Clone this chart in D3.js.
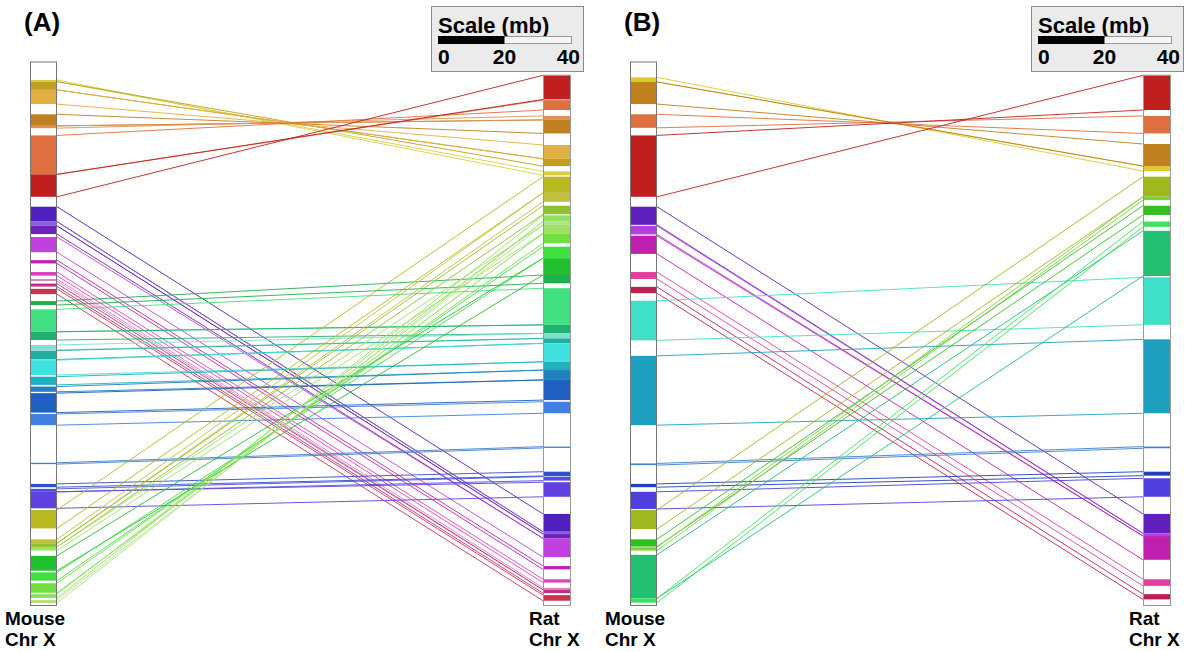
<!DOCTYPE html>
<html><head><meta charset="utf-8">
<script src="https://cdn.jsdelivr.net/npm/d3@7"></script>
<style>
body{margin:0;background:#fff}
text{font-family:"Liberation Sans",Arial,Helvetica,sans-serif;font-weight:bold;fill:#000}
</style>
</head><body>
<svg id="c" width="1200" height="652"></svg>
<script>
// ---------- data ----------
const panelLabels = ["(A)", "(B)"];
const mouseLabel = ["Mouse", "Chr X"];
const ratLabel = ["Rat", "Chr X"];
const mouseLength = 165;   // mb
const ratLength = 161;     // mb
const scaleTitle = "Scale (mb)";
const scaleTicks = [0, 20, 40];

const palette = {
  paleyellow:"#d8d040", oliveyellow:"#c0a020", gold:"#e0b040", ochre:"#c0801e",
  lightorange:"#e09050", orange:"#e07040", red:"#c01f1f", yellowB:"#dccb2c",
  purpleA:"#5020c0", lightviolet:"#9060d0", violetA:"#7020c0", magviolet:"#c040e0",
  magentaA:"#c020b0", pinkA:"#e040c0", lightpink:"#e080c0", pinkred:"#c03080",
  redpink:"#d03050", purpleB:"#6020c0", violetB:"#b040e0", magentaB:"#c020b0",
  pinkB:"#e040a0", crimson:"#c02050",
  greenA:"#20b050", tealgreen:"#40e080", darkteal:"#20b070", paleteal:"#80e0d0",
  teal2:"#20b0a0", turqA:"#40e0e0", teal3:"#20b0c0", teal4:"#2080c0",
  blueA:"#2060c0", lightblue:"#4080e0", blueline:"#4080d0", blueA2:"#3050d0",
  bluevioletA:"#5050e0", purpleblue:"#6040e0", turqB:"#40e0c8", tealblue:"#20a0c0",
  darkblue:"#2040c0", blueviolet:"#5040e0",
  olive:"#b8b820", lightolive:"#c0c040", olivegreenA:"#90c030", palegreen:"#a0e060",
  greenA2:"#20c030", bright:"#40e040", lightgreenA:"#70e040", stripe1:"#90e060",
  stripe2:"#b0e080", olivegreen:"#a0b820", green:"#30c020", lightgreen:"#80d040",
  greenteal:"#20c070", lightgreen2:"#40e060"
};

// synteny blocks: [mouseStart, mouseEnd, ratStart, ratEnd, colour]  (mb)
const blocksA = [
  [5.6, 6.1, 30.5, 29.3, "paleyellow"],
  [6.1, 8.6, 27.7, 25.5, "oliveyellow"],
  [8.6, 12.9, 25.5, 21.3, "gold"],
  [16.0, 19.5, 17.8, 13.7, "ochre"],
  [19.5, 20.2, 13.7, 12.5, "lightorange"],
  [22.4, 34.2, 10.7, 7.7, "orange"],
  [34.2, 41.0, 7.5, 0.2, "red"],
  [44.0, 48.5, 133.1, 138.5, "purpleA"],
  [48.5, 49.8, 138.5, 139.2, "lightviolet"],
  [49.8, 52.3, 139.2, 140.5, "violetA"],
  [53.2, 57.8, 140.5, 146.2, "magviolet"],
  [60.2, 61.2, 148.9, 149.9, "magentaA"],
  [63.8, 64.9, 152.9, 153.9, "pinkA"],
  [65.9, 66.5, 155.5, 156.1, "lightpink"],
  [67.3, 68.2, 156.1, 157.1, "pinkred"],
  [68.9, 70.5, 157.7, 159.4, "redpink"],
  [72.6, 73.8, 60.7, 63.2, "greenA"],
  [75.1, 81.9, 64.7, 75.8, "tealgreen"],
  [81.9, 84.4, 75.8, 78.4, "darkteal"],
  [85.9, 87.4, 78.4, 79.9, "paleteal"],
  [87.6, 90.3, 79.9, 81.4, "teal2"],
  [90.5, 95.0, 81.4, 87.0, "turqA"],
  [95.5, 98.0, 87.0, 89.5, "teal3"],
  [98.5, 100.1, 89.5, 92.5, "teal4"],
  [100.5, 106.4, 92.5, 98.6, "blueA"],
  [106.8, 110.2, 99.1, 102.6, "lightblue"],
  [121.6, 122.0, 112.7, 113.1, "blueline"],
  [128.0, 129.0, 120.3, 121.6, "blueA2"],
  [129.5, 130.4, 121.8, 123.0, "bluevioletA"],
  [130.4, 135.4, 123.5, 127.9, "purpleblue"],
  [135.9, 141.5, 30.9, 35.8, "olive"],
  [144.8, 146.0, 35.8, 38.5, "lightolive"],
  [146.0, 147.1, 39.7, 42.3, "olivegreenA"],
  [147.1, 148.2, 45.5, 48.1, "palegreen"],
  [149.8, 154.3, 55.6, 60.7, "greenA2"],
  [154.8, 157.3, 55.6, 52.1, "bright"],
  [158.1, 161.0, 51.1, 48.1, "lightgreenA"],
  [161.4, 162.6, 44.5, 42.6, "stripe1"],
  [163.2, 164.1, 45.5, 44.5, "stripe2"]
];

const blocksB = [
  [4.8, 6.2, 29.2, 27.7, "yellowB"],
  [6.2, 12.9, 27.7, 21.0, "ochre"],
  [16.0, 20.1, 17.8, 12.5, "orange"],
  [22.4, 41.0, 10.7, 0.2, "red"],
  [44.0, 49.5, 133.1, 139.0, "purpleB"],
  [49.8, 52.4, 139.0, 139.8, "violetB"],
  [52.8, 58.3, 139.8, 147.0, "magentaB"],
  [63.8, 65.9, 152.9, 154.9, "pinkB"],
  [68.3, 70.2, 157.4, 159.0, "crimson"],
  [72.5, 84.5, 61.4, 75.8, "turqB"],
  [89.2, 110.2, 80.2, 102.6, "tealblue"],
  [121.8, 122.3, 112.7, 113.2, "blueline"],
  [128.0, 129.0, 120.3, 121.5, "darkblue"],
  [130.4, 135.6, 122.3, 127.9, "blueviolet"],
  [135.9, 141.7, 30.9, 37.0, "olivegreen"],
  [144.8, 147.0, 39.7, 42.5, "green"],
  [147.2, 148.2, 37.0, 38.0, "lightgreen"],
  [149.5, 162.7, 47.3, 61.0, "greenteal"],
  [162.7, 164.0, 44.5, 46.1, "lightgreen2"]
];

// ---------- drawing ----------
const svg = d3.select("#c");
const panelOffsets = [0, 600];
const layout = {mouseX:30, mouseW:27, ratX:543, ratW:28, bottom:606, pxPerMb:3.3};

function drawPanel(blocks, ox, label) {
  const g = svg.append("g").attr("transform", `translate(${ox},0)`);
  const L = layout;
  const yM = d3.scaleLinear().domain([0, mouseLength])
    .range([L.bottom - mouseLength * L.pxPerMb, L.bottom]);
  const yR = d3.scaleLinear().domain([0, ratLength])
    .range([L.bottom - ratLength * L.pxPerMb, L.bottom]);

  // connecting lines
  const lines = [];
  blocks.forEach(b => {
    lines.push({m:b[0], r:b[2], c:palette[b[4]]});
    lines.push({m:b[1], r:b[3], c:palette[b[4]]});
  });
  g.append("g").selectAll("line").data(lines).join("line")
    .attr("x1", L.mouseX + L.mouseW).attr("x2", L.ratX)
    .attr("y1", d => yM(d.m)).attr("y2", d => yR(d.r))
    .attr("stroke", d => d.c).attr("stroke-width", 1).attr("stroke-opacity", 0.9);

  // chromosome backgrounds
  g.append("rect").attr("x", L.mouseX).attr("y", yM(0)).attr("width", L.mouseW)
    .attr("height", yM(mouseLength) - yM(0)).attr("fill", "#fff");
  g.append("rect").attr("x", L.ratX).attr("y", yR(0)).attr("width", L.ratW)
    .attr("height", yR(ratLength) - yR(0)).attr("fill", "#fff");

  // blocks
  g.append("g").selectAll("rect").data(blocks).join("rect")
    .attr("x", L.mouseX).attr("width", L.mouseW)
    .attr("y", d => yM(Math.min(d[0], d[1])))
    .attr("height", d => Math.max(0.8, Math.abs(yM(d[1]) - yM(d[0]))))
    .attr("fill", d => palette[d[4]]);
  g.append("g").selectAll("rect").data(blocks).join("rect")
    .attr("x", L.ratX).attr("width", L.ratW)
    .attr("y", d => yR(Math.min(d[2], d[3])))
    .attr("height", d => Math.max(0.8, Math.abs(yR(d[3]) - yR(d[2]))))
    .attr("fill", d => palette[d[4]]);

  // outlines
  g.append("rect").attr("x", L.mouseX + 0.5).attr("y", yM(0) + 0.5).attr("width", L.mouseW - 1)
    .attr("height", yM(mouseLength) - yM(0) - 1).attr("fill", "none")
    .attr("stroke", "#777").attr("stroke-width", 1);
  g.append("rect").attr("x", L.ratX + 0.5).attr("y", yR(0) + 0.5).attr("width", L.ratW - 1)
    .attr("height", yR(ratLength) - yR(0) - 1).attr("fill", "none")
    .attr("stroke", "#999").attr("stroke-width", 1);

  // labels
  g.append("text").attr("x", 24).attr("y", 31).attr("font-size", 26).text(label);
  mouseLabel.forEach((t, i) => g.append("text").attr("font-size", 19)
    .attr("x", 5).attr("y", 625 + i * 21).text(t));
  ratLabel.forEach((t, i) => g.append("text").attr("font-size", 19)
    .attr("x", 529).attr("y", 625 + i * 21).text(t));

  // scale legend
  const sx = d3.scaleLinear().domain([0, 40]).range([438, 571]);
  const sg = g.append("g");
  sg.append("rect").attr("x", 431.5).attr("y", 6.5).attr("width", 152).attr("height", 65)
    .attr("fill", "#ebebeb").attr("stroke", "#8a8a8a");
  sg.append("text").attr("x", 438).attr("y", 33).attr("font-size", 22).text(scaleTitle);
  sg.append("rect").attr("x", sx(0) + 0.5).attr("y", 36.5).attr("width", sx(40) - sx(0))
    .attr("height", 7).attr("fill", "#f6f6f6").attr("stroke", "#999");
  sg.append("rect").attr("x", sx(0)).attr("y", 36).attr("width", sx(20) - sx(0))
    .attr("height", 8).attr("fill", "#000");
  sg.selectAll("text.tick").data(scaleTicks).join("text").attr("class", "tick")
    .attr("font-size", 21).attr("y", 64)
    .attr("x", (d, i) => i === 0 ? sx(d) : i === scaleTicks.length - 1 ? sx(d) + 9 : sx(d))
    .attr("text-anchor", (d, i) => i === 0 ? "start" : i === scaleTicks.length - 1 ? "end" : "middle")
    .text(d => d);
}

drawPanel(blocksA, panelOffsets[0], panelLabels[0]);
drawPanel(blocksB, panelOffsets[1], panelLabels[1]);
</script>
</body></html>
